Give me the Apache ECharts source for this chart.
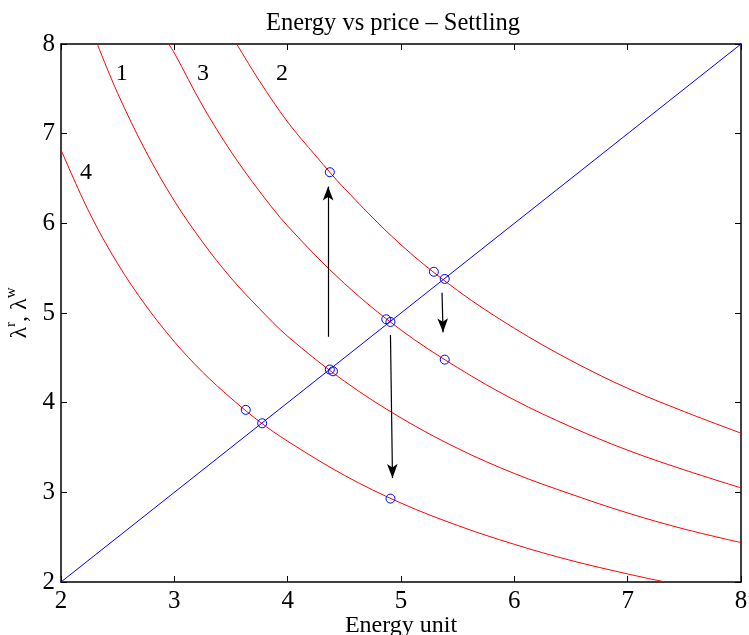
<!DOCTYPE html>
<html>
<head>
<meta charset="utf-8">
<script src="https://cdn.jsdelivr.net/npm/echarts@6/dist/echarts.min.js"></script>
<style>
  html, body { margin: 0; padding: 0; background: #fff; }
  #chart { width: 749px; height: 635px; }
</style>
</head>
<body>
<div id="chart"></div>
<script>
// Supply curves (red) for the four settling steps
const curve1X = [2.32, 2.5, 2.75, 3, 3.25, 3.5, 3.75, 4, 4.5, 5, 5.5, 6, 6.5, 7, 7.5, 8];
const curve1Y = [8.0, 7.45, 6.80, 6.25, 5.79, 5.39, 5.05, 4.74, 4.24, 3.83, 3.49, 3.21, 2.98, 2.77, 2.59, 2.44];

const curve2X = [3.55, 3.75, 4, 4.25, 4.5, 5, 5.5, 6, 6.5, 7, 7.5, 8];
const curve2Y = [8.0, 7.59, 7.13, 6.75, 6.39, 5.76, 5.25, 4.83, 4.47, 4.16, 3.90, 3.66];

const curve3X = [2.95, 3, 3.25, 3.5, 3.75, 4, 4.5, 5, 5.5, 6, 6.5, 7, 7.5, 8];
const curve3Y = [8.0, 7.90, 7.31, 6.80, 6.36, 5.97, 5.33, 4.81, 4.39, 4.03, 3.73, 3.47, 3.25, 3.05];

const curve4X = [2, 2.25, 2.5, 2.75, 3, 3.25, 3.5, 3.75, 4, 4.5, 5, 5.5, 6, 6.5, 7, 7.33];
const curve4Y = [6.82, 6.12, 5.55, 5.08, 4.68, 4.34, 4.05, 3.79, 3.57, 3.19, 2.88, 2.63, 2.42, 2.24, 2.09, 2.0];

// Equilibrium line (blue diagonal)
const diagX = [2, 8];
const diagY = [2, 8];

// Marked operating points
const markerX = [4.372, 4.40, 3.63, 3.775, 4.87, 4.907, 5.29, 5.386, 4.372, 5.386, 4.907];
const markerY = [4.37, 4.35, 3.92, 3.77, 4.93, 4.90, 5.46, 5.38, 6.57, 4.48, 2.93];

// Transition arrows: start and tip
const arrowFromX = [4.357, 4.907, 5.362];
const arrowFromY = [4.735, 4.754, 5.227];
const arrowToX = [4.357, 4.925, 5.371];
const arrowToY = [6.41, 3.161, 4.784];

// Curve labels
const curveNames = ['1', '3', '2', '4'];
const curveNameX = [2.535, 3.254, 3.949, 2.22];
const curveNameY = [7.67, 7.67, 7.67, 6.57];

const zip = (xs, ys) => xs.map((x, i) => [x, ys[i]]);

const FONT = "'Liberation Serif', 'Times New Roman', serif";
const AX = '#000';

const curveSeries = [curve1X, curve2X, curve3X, curve4X].map((xs, i) => ({
  type: 'line',
  data: zip(xs, [curve1Y, curve2Y, curve3Y, curve4Y][i]),
  smooth: 0.35,
  showSymbol: false,
  lineStyle: { color: '#ff0000', width: 1 },
  silent: true,
  z: 2
}));

const chart = echarts.init(document.getElementById('chart'), null, { renderer: 'canvas' });

const baseAxis = {
  type: 'value',
  min: 2,
  max: 8,
  interval: 1,
  axisLine: { show: true, onZero: false, lineStyle: { color: AX, width: 1.5 } },
  axisTick: { show: true, inside: true, length: 6, lineStyle: { color: AX, width: 1 } },
  splitLine: { show: false }
};

chart.setOption({
  backgroundColor: '#fff',
  animation: false,
  title: {
    text: 'Energy vs price \u2013 Settling',
    left: 388,
    top: 6,
    textAlign: 'center',
    textStyle: { fontFamily: FONT, fontWeight: 'normal', fontSize: 24.5, color: '#000' }
  },
  grid: { left: 61, right: 8, top: 44, bottom: 53, containLabel: false, outerBoundsMode: 'none' },
  xAxis: [
    Object.assign({}, baseAxis, {
      position: 'bottom',
      name: 'Energy unit',
      nameLocation: 'middle',
      nameGap: 32,
      nameMoveOverlap: false,
      nameTextStyle: { fontFamily: FONT, fontSize: 24, color: '#000' },
      axisLabel: { fontFamily: FONT, fontSize: 25, color: '#000', margin: 7 }
    }),
    Object.assign({}, baseAxis, {
      position: 'top',
      axisLabel: { show: false }
    })
  ],
  yAxis: [
    Object.assign({}, baseAxis, {
      position: 'left',
      name: '{g|\u03bb}{s|r}{g|, \u03bb}{s|w}',
      nameLocation: 'middle',
      nameRotate: 90,
      nameGap: 28,
      nameTextStyle: {
        fontFamily: FONT,
        color: '#000',
        rich: {
          g: { fontFamily: FONT, fontSize: 24, color: '#000', verticalAlign: 'bottom', lineHeight: 28 },
          s: { fontFamily: FONT, fontSize: 15, color: '#000', verticalAlign: 'top', lineHeight: 28 }
        }
      },
      axisLabel: { fontFamily: FONT, fontSize: 25, color: '#000', margin: 6 }
    }),
    Object.assign({}, baseAxis, {
      position: 'right',
      axisLabel: { show: false }
    })
  ],
  series: [
    ...curveSeries,
    {
      type: 'line',
      data: zip(diagX, diagY),
      showSymbol: false,
      lineStyle: { color: '#0000ff', width: 1 },
      silent: true,
      z: 3
    },
    {
      type: 'scatter',
      data: zip(markerX, markerY),
      symbol: 'circle',
      symbolSize: 9,
      itemStyle: { color: 'transparent', borderColor: '#0000ff', borderWidth: 1, opacity: 1 },
      silent: true,
      z: 4
    },
    {
      type: 'scatter',
      data: curveNames.map((n, i) => ({ name: n, value: [curveNameX[i], curveNameY[i]] })),
      symbolSize: 1,
      itemStyle: { color: 'transparent', opacity: 1 },
      label: {
        show: true,
        position: 'inside',
        formatter: p => p.name,
        fontFamily: FONT,
        fontSize: 24,
        color: '#000',
        opacity: 1
      },
      silent: true,
      z: 5
    },
    {
      type: 'line',
      data: [],
      silent: true,
      markLine: {
        silent: true,
        symbol: ['none', 'arrow'],
        symbolSize: [8, 14],
        label: { show: false },
        lineStyle: { color: '#000', width: 1.2, type: 'solid' },
        data: arrowFromX.map((x, i) => [
          { coord: [x, arrowFromY[i]] },
          { coord: [arrowToX[i], arrowToY[i]] }
        ])
      },
      z: 6
    }
  ]
});
</script>
</body>
</html>
